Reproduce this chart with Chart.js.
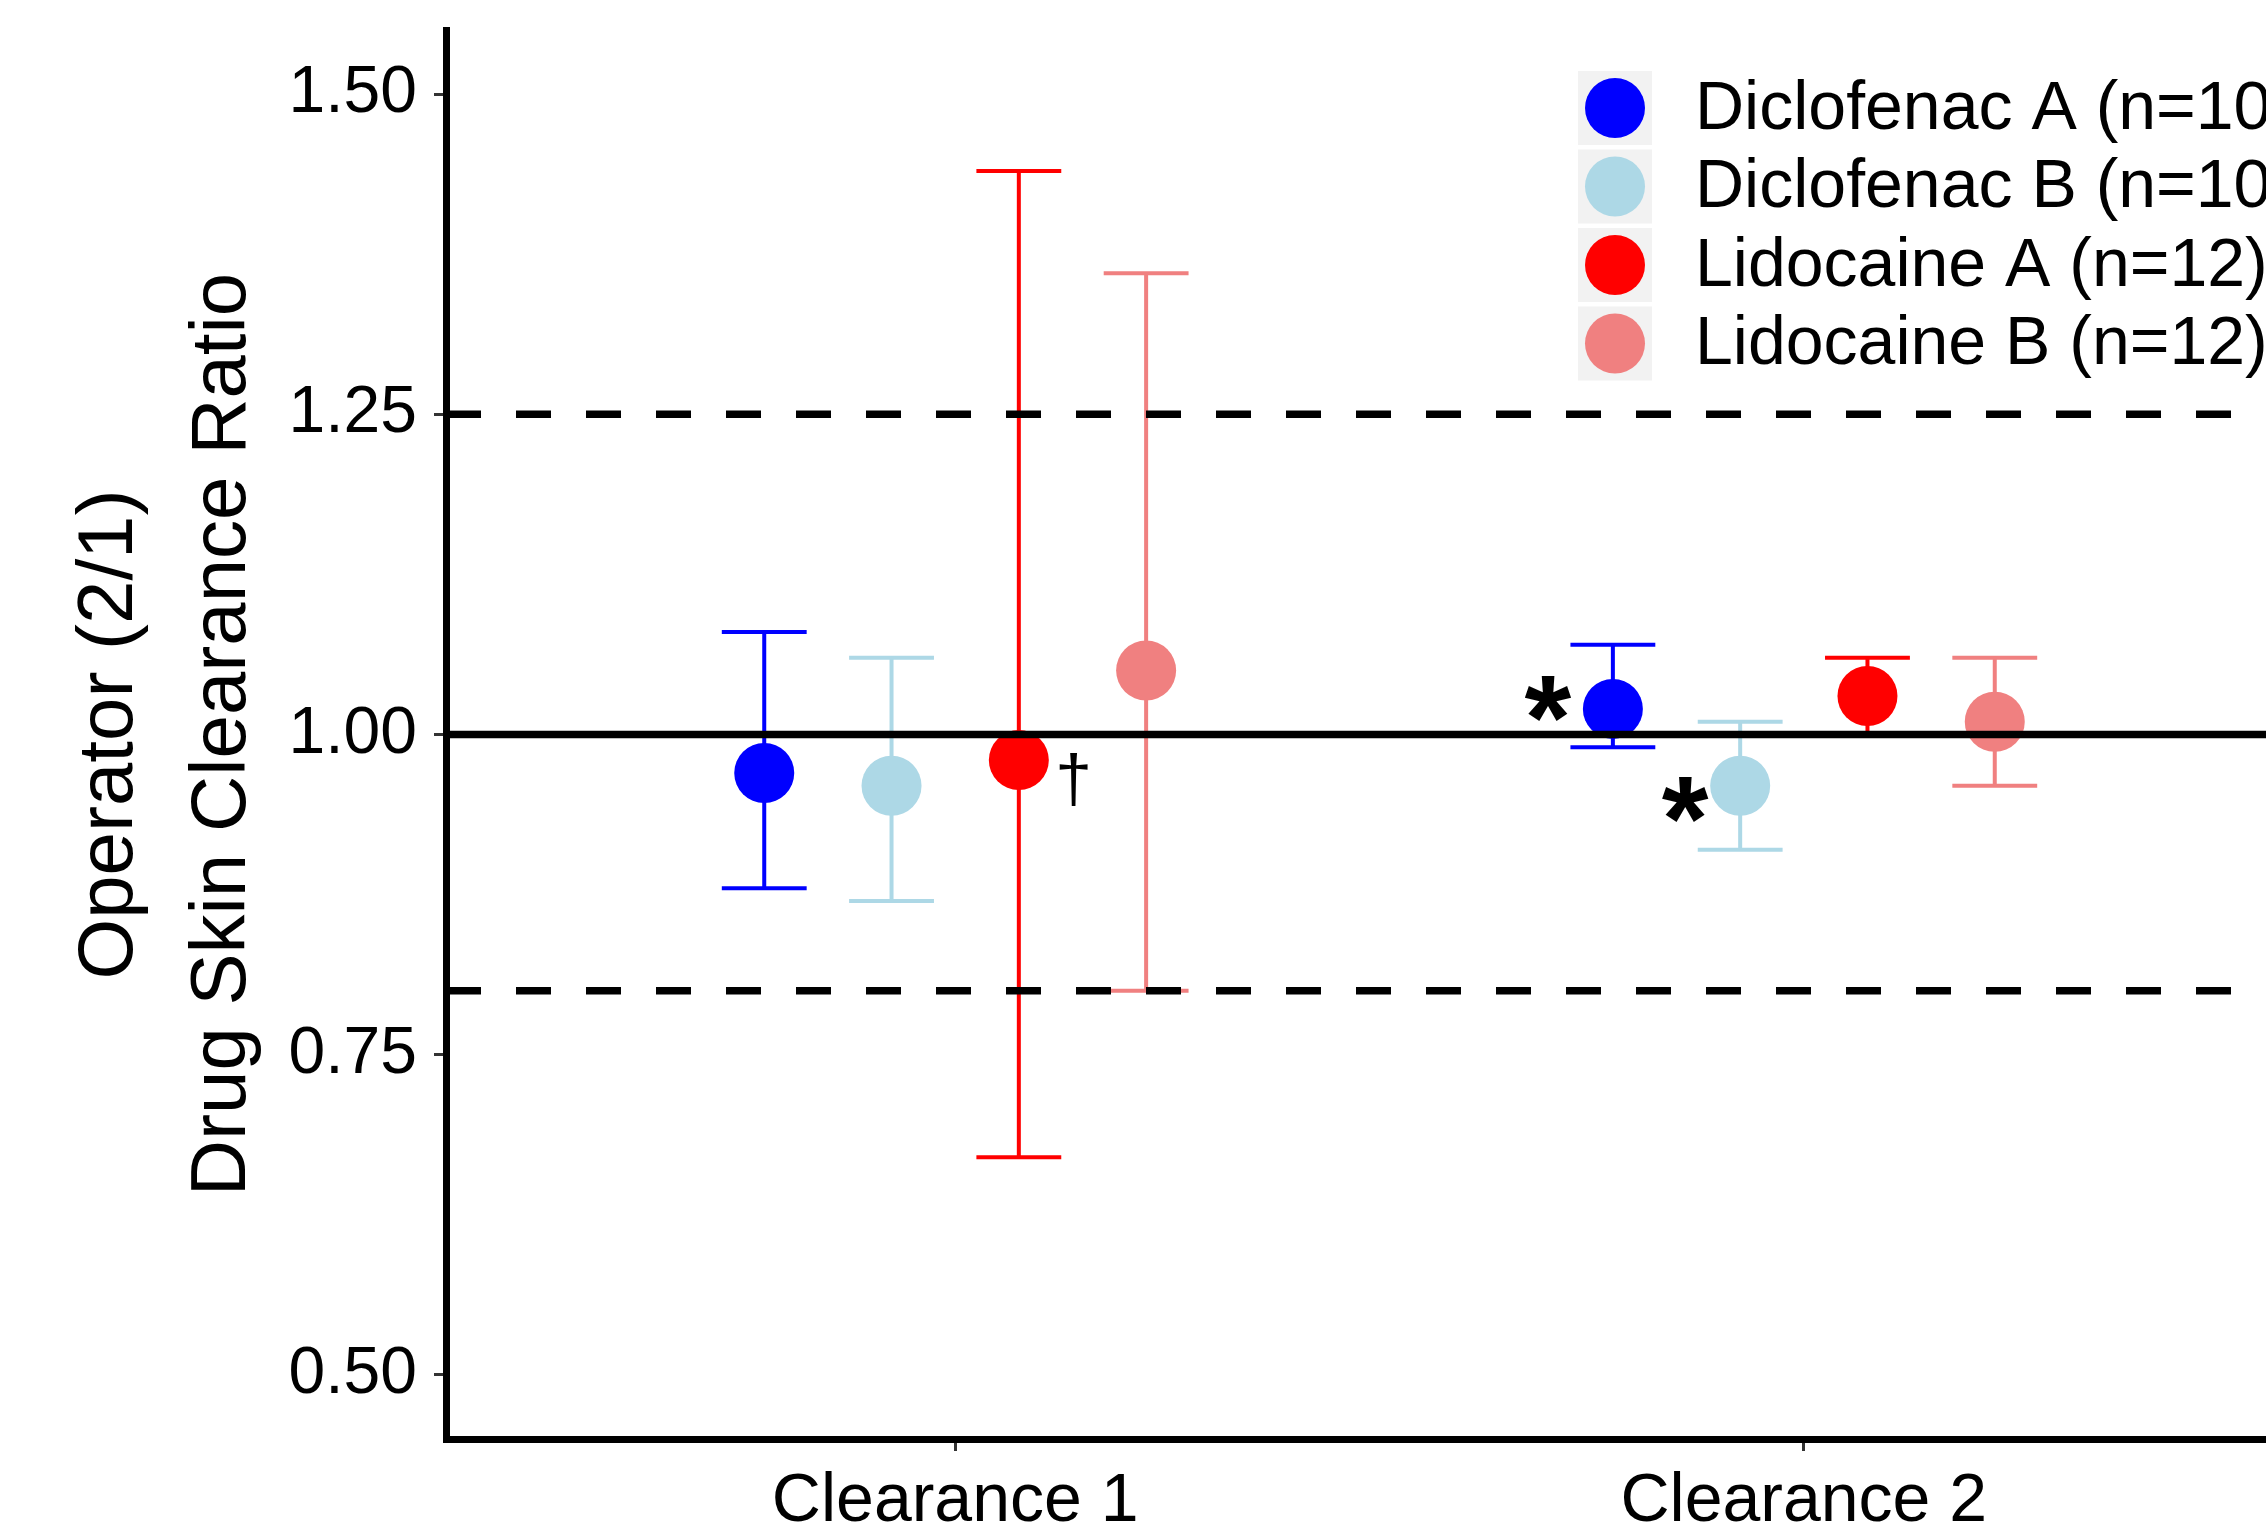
<!DOCTYPE html>
<html lang="en">
<head>
<meta charset="UTF-8">
<title>Drug skin clearance ratio</title>
<script src="https://cdn.jsdelivr.net/npm/chart.js"></script>
<style>
  html, body { margin: 0; padding: 0; background: #fff; overflow: hidden; }
  .wrap { width: 2266px; height: 1534px; overflow: hidden; }
  canvas { display: block; }
</style>
</head>
<body>
<div class="wrap"><canvas id="ratioChart" width="2343" height="1534"></canvas></div>
<script>
// data
const categories = ['Clearance 1', 'Clearance 2'];
const seriesNames = ['Diclofenac A (n=10)', 'Diclofenac B (n=10)', 'Lidocaine A (n=12)', 'Lidocaine B (n=12)'];
const seriesColors = ['#0000ff', '#add8e6', '#ff0000', '#f08080'];

const diclofenacA = [0.97, 1.02];
const diclofenacALow = [0.88, 0.99];
const diclofenacAHigh = [1.08, 1.07];

const diclofenacB = [0.96, 0.96];
const diclofenacBLow = [0.87, 0.91];
const diclofenacBHigh = [1.06, 1.01];

const lidocaineA = [0.98, 1.03];
const lidocaineALow = [0.67, 1.00];
const lidocaineAHigh = [1.44, 1.06];

const lidocaineB = [1.05, 1.01];
const lidocaineBLow = [0.80, 0.96];
const lidocaineBHigh = [1.36, 1.06];

const yTicks = [0.50, 0.75, 1.00, 1.25, 1.50];
const refValues = [1.00, 0.80, 1.25];
const refDashed = [false, true, true];

// significance marks: series index, category index, symbol
const marks = [
    { series: 2, cat: 0, text: '\u2020' },
    { series: 0, cat: 1, text: '*' },
    { series: 1, cat: 1, text: '*' }
];

const means = [diclofenacA, diclofenacB, lidocaineA, lidocaineB];
const lows = [diclofenacALow, diclofenacBLow, lidocaineALow, lidocaineBLow];
const highs = [diclofenacAHigh, diclofenacBHigh, lidocaineAHigh, lidocaineBHigh];

const FONT = '"Liberation Sans", Arial, Helvetica, sans-serif';
const dodge = 0.15;      // spacing between groups inside a category
const capWidth = 0.1;    // error bar cap width, x units

const datasets = seriesNames.map((name, i) => ({
    label: name,
    data: categories.map((c, j) => ({
        x: j + 1 + (i - 1.5) * dodge,
        y: means[i][j],
        lo: lows[i][j],
        hi: highs[i][j]
    })),
    backgroundColor: seriesColors[i],
    borderWidth: 0,
    pointRadius: 30,
    pointHoverRadius: 30
}));

const errorBars = {
    id: 'errorBars',
    beforeDatasetsDraw(chart) {
        const { ctx, scales: { x, y } } = chart;
        ctx.save();
        ctx.lineWidth = 4;
        chart.data.datasets.forEach(ds => {
            ctx.strokeStyle = ds.backgroundColor;
            ds.data.forEach(p => {
                const px = x.getPixelForValue(p.x);
                const half = x.getPixelForValue(p.x + capWidth / 2) - px;
                const top = y.getPixelForValue(p.hi);
                const bot = y.getPixelForValue(p.lo);
                ctx.beginPath();
                ctx.moveTo(px, top); ctx.lineTo(px, bot);
                ctx.moveTo(px - half, top); ctx.lineTo(px + half, top);
                ctx.moveTo(px - half, bot); ctx.lineTo(px + half, bot);
                ctx.stroke();
            });
        });
        ctx.restore();
    }
};

function drawCentered(ctx, text, cx, cy) {
    const m = ctx.measureText(text);
    const w = m.actualBoundingBoxRight + m.actualBoundingBoxLeft;
    const dx = cx - w / 2 + m.actualBoundingBoxLeft;
    const dy = cy + (m.actualBoundingBoxAscent - m.actualBoundingBoxDescent) / 2;
    ctx.fillText(text, dx, dy);
}

const overlay = {
    id: 'overlay',
    afterDatasetsDraw(chart) {
        const { ctx, chartArea, scales: { x, y } } = chart;
        ctx.save();
        // reference lines sit on top of the points
        ctx.strokeStyle = '#000';
        ctx.lineWidth = 7.5;
        refValues.forEach((v, i) => {
            const py = y.getPixelForValue(v);
            ctx.setLineDash(refDashed[i] ? [35, 35] : []);
            ctx.beginPath();
            ctx.moveTo(chartArea.left, py);
            ctx.lineTo(chartArea.right, py);
            ctx.stroke();
        });
        ctx.setLineDash([]);

        // significance marks
        ctx.fillStyle = '#000';
        ctx.textAlign = 'left';
        ctx.textBaseline = 'alphabetic';
        marks.forEach(m => {
            const p = chart.data.datasets[m.series].data[m.cat];
            const px = x.getPixelForValue(p.x);
            const py = y.getPixelForValue(p.y);
            if (m.text === '*') {
                ctx.font = 'bold 120px ' + FONT;
                drawCentered(ctx, m.text, px - (m.series === 0 ? 65 : 55), py + (m.series === 0 ? -10 : 14));
            } else {
                ctx.font = '66px ' + FONT;
                drawCentered(ctx, m.text, px + 55, py + 19);
            }
        });

        // legend
        const keyX = 1615, keyY = 108, pitch = 78.5, box = 74;
        ctx.font = '68px ' + FONT;
        ctx.textBaseline = 'middle';
        seriesNames.forEach((name, i) => {
            const cy = keyY + i * pitch;
            ctx.fillStyle = '#f2f2f2';
            ctx.fillRect(keyX - box / 2, cy - box / 2, box, box);
            ctx.fillStyle = seriesColors[i];
            ctx.beginPath();
            ctx.arc(keyX, cy, 30, 0, Math.PI * 2);
            ctx.fill();
            ctx.fillStyle = '#000';
            ctx.fillText(name, 1695, cy + 2);
        });
        ctx.restore();
    }
};

new Chart(document.getElementById('ratioChart'), {
    type: 'scatter',
    data: { datasets: datasets },
    options: {
        responsive: false,
        animation: false,
        devicePixelRatio: 1,
        layout: { padding: { left: 0, top: 29, right: 10, bottom: 0 } },
        plugins: {
            legend: { display: false },
            tooltip: { enabled: false }
        },
        scales: {
            x: {
                type: 'linear',
                min: 0.4,
                max: 2.6,
                afterFit: s => { s.height = 95; s.paddingLeft = 0; s.paddingRight = 0; },
                afterBuildTicks: s => { s.ticks = categories.map((c, i) => ({ value: i + 1 })); },
                border: { display: true, color: '#000', width: 7 },
                grid: { drawOnChartArea: false, drawTicks: true, tickLength: 12, tickWidth: 3, tickColor: '#333' },
                ticks: {
                    autoSkip: false,
                    maxRotation: 0,
                    padding: 10,
                    color: '#000',
                    font: { family: FONT, size: 68 },
                    callback: (v, i) => categories[i]
                }
            },
            y: {
                min: 0.45,
                max: 1.55,
                afterFit: s => { s.width = 446; s.paddingTop = 0; s.paddingBottom = 0; },
                afterBuildTicks: s => { s.ticks = yTicks.map(v => ({ value: v })); },
                border: { display: true, color: '#000', width: 7 },
                grid: { drawOnChartArea: false, drawTicks: true, tickLength: 12, tickWidth: 3, tickColor: '#333' },
                ticks: {
                    padding: 17,
                    color: '#000',
                    font: { family: FONT, size: 66 },
                    callback: (v, i) => yTicks[i].toFixed(2)
                },
                title: {
                    display: true,
                    text: ['Operator (2/1)', 'Drug Skin Clearance Ratio'],
                    color: '#000',
                    font: { family: FONT, size: 78, lineHeight: 1.45 },
                    padding: { top: 54, bottom: 0 }
                }
            }
        }
    },
    plugins: [errorBars, overlay]
});
</script>
</body>
</html>
